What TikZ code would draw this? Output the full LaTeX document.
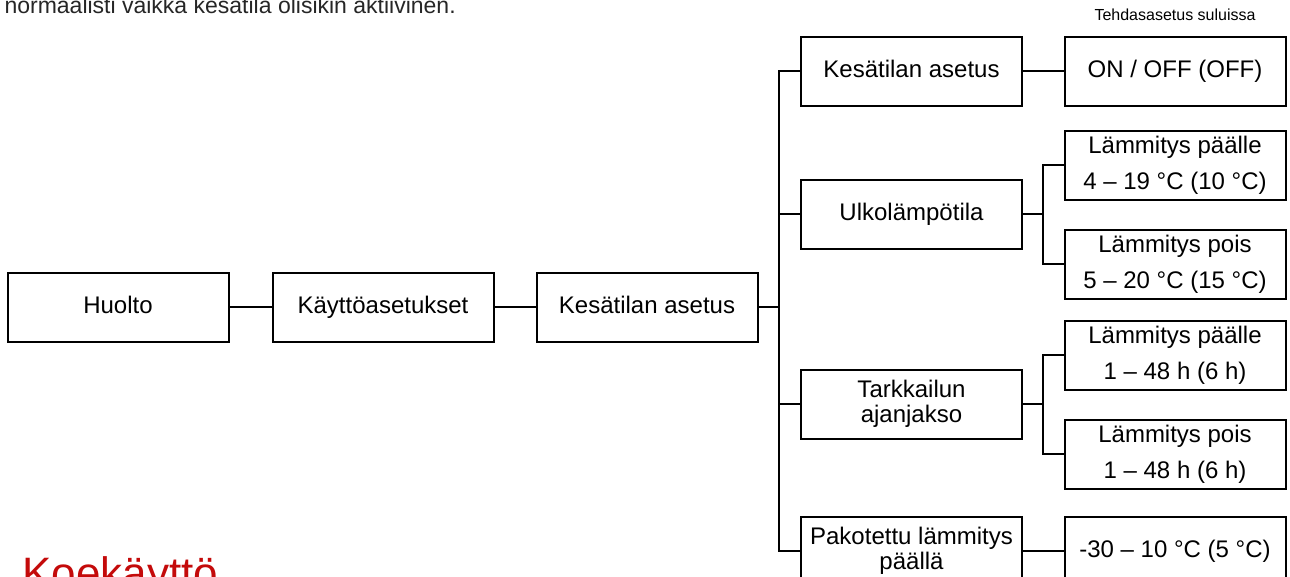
\documentclass[tikz,border=0pt]{standalone}
\usepackage{fontspec}
\setmainfont{Liberation Sans}
\definecolor{headred}{RGB}{196,10,10}
\tikzset{
  menubox/.style={draw, line width=2pt, minimum width=221pt, minimum height=69pt, inner sep=0pt, align=center, font=\fontsize{24}{25}\selectfont},
  onebox/.style={menubox, text height=18pt, text depth=6pt},
  valbox/.style={menubox, font=\fontsize{24}{36}\selectfont},
  link/.style={line width=2pt}
}
\begin{document}
\begin{tikzpicture}[x=1pt, y=-1pt]
    % pixel coordinates of the 1290 x 576 page, y axis pointing down
    \useasboundingbox (0,0) rectangle (1290,576);
    \clip (0,0) rectangle (1290,576);
    \node[anchor=base west, font=\fontsize{23}{25}\selectfont, text=black!85] (intro) at (1,13) {normaalisti vaikka kesätila olisikin aktiivinen.};
    \node[anchor=base west, font=\fontsize{44}{48}\selectfont, text=headred] (koe) at (19,588) {Koekäyttö};
    \node[font=\fontsize{16}{18}\selectfont] (factory) at (1175,15) {Tehdasasetus suluissa};
    % main path
    \node[onebox] (huolto) at (118,307) {Huolto};
    \node[onebox] (kaytto) at (383,307) {Käyttöasetukset};
    \node[onebox] (kesa) at (647,307) {Kesätilan asetus};
    % submenu
    \node[onebox] (kesaset) at (911.5,71) {Kesätilan asetus};
    \node[onebox] (ulko) at (911.5,214) {Ulkolämpötila};
    \node[menubox] (tark) at (911.5,404) {Tarkkailun\\ajanjakso};
    \node[menubox] (pako) at (911.5,551) {Pakotettu lämmitys\\päällä};
    % values
    \node[onebox] (onoff) at (1175,71) {ON / OFF (OFF)};
    \node[valbox] (ulkoon) at (1175,165) {Lämmitys päälle\\4 – 19 °C (10 °C)};
    \node[valbox] (ulkooff) at (1175,264) {Lämmitys pois\\5 – 20 °C (15 °C)};
    \node[valbox] (tarkon) at (1175,355) {Lämmitys päälle\\1 – 48 h (6 h)};
    \node[valbox] (tarkoff) at (1175,454) {Lämmitys pois\\1 – 48 h (6 h)};
    \node[onebox] (pakoval) at (1175,551) {-30 – 10 °C (5 °C)};
    \coordinate (bus) at (779,0);
    \coordinate (sbus) at (1043,0);
    \draw[link] (huolto) -- (kaytto);
    \draw[link] (kaytto) -- (kesa);
    \draw[link] (kesa.east) -- (kesa.east -| bus);
    \draw[link] (kesaset.west) -| (bus |- pako.west) -- (pako.west);
    \draw[link] (ulko.west) -- (ulko.west -| bus);
    \draw[link] (tark.west) -- (tark.west -| bus);
    \draw[link] (kesaset) -- (onoff);
    \draw[link] (pako) -- (pakoval);
    \draw[link] (ulko.east) -- (ulko.east -| sbus);
    \draw[link] (ulkoon.west) -| (sbus |- ulkooff.west) -- (ulkooff.west);
    \draw[link] (tark.east) -- (tark.east -| sbus);
    \draw[link] (tarkon.west) -| (sbus |- tarkoff.west) -- (tarkoff.west);
\end{tikzpicture}
\end{document}
